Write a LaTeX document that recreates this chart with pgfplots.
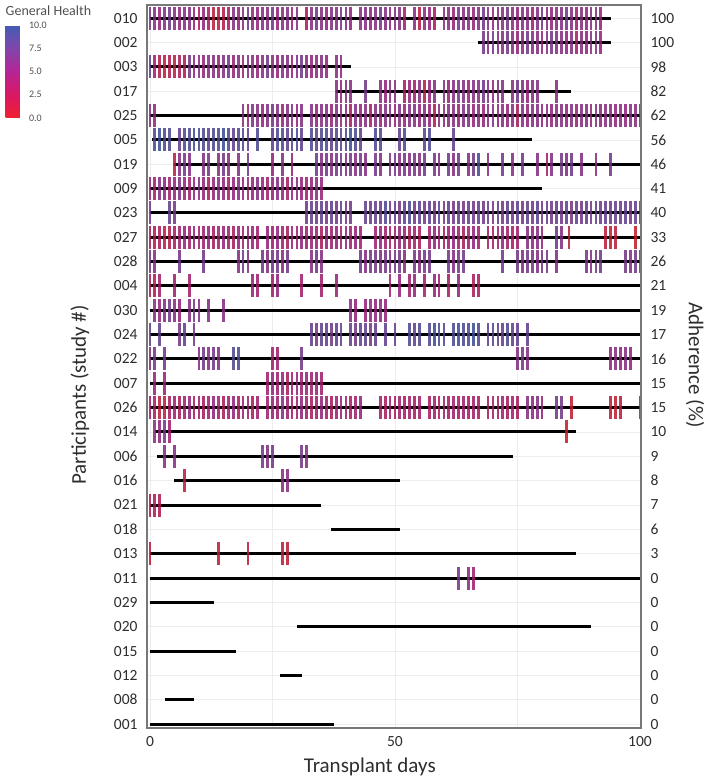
\documentclass[border=0pt]{standalone}
\usepackage{fontspec}
\setmainfont{Carlito}
\usepackage{pgfplots}
\pgfplotsset{compat=1.18}
\definecolor{fr}{RGB}{120,120,120}
\definecolor{tx}{RGB}{45,45,45}
\definecolor{cbt}{RGB}{80,80,80}
\begin{document}
\begin{tikzpicture}
\pgfplotsset{
 tk/.style={scatter, only marks, mark=|, mark size=11.5pt, point meta=explicit, mark options={line width=2.8pt, opacity=0.85}},
 seg/.style={black, line width=3pt, no marks},
}
\begin{axis}[
 scale only axis, width=494pt, height=723pt,
 xmin=-0.6, xmax=100.2, ymin=-0.16, ymax=29.54,
 xtick={0,25,50,75,100}, xticklabels={0,,50,,100},
 ytick={0,...,29},
 yticklabels={001,008,012,015,020,029,011,013,018,021,016,006,014,026,007,022,024,030,004,028,027,023,009,019,005,025,017,003,002,010},
 major tick length=0pt,
 grid=major, major grid style={draw=black!7, line width=0.6pt},
 axis line style={draw=fr, line width=1.3pt},
 ticklabel style={font=\fontsize{15.5}{15.5}\selectfont, text=tx},
 yticklabel style={xshift=-6pt},
 xticklabel style={yshift=-5pt},
 xlabel={Transplant days},
 xlabel style={at={(axis description cs:0.451,-0.0622)}, anchor=base, font=\fontsize{21}{21}\selectfont, text=tx},
 ylabel={Participants (study \#)},
 ylabel style={at={(axis description cs:-0.1356,0.4606)}, anchor=center, font=\fontsize{21}{21}\selectfont, text=tx},
 colormap={gh}{rgb255=(238,32,48) rgb255=(218,24,100) rgb255=(182,36,150) rgb255=(128,70,170) rgb255=(66,92,182)},
 point meta min=0, point meta max=10,
 colorbar,
 colorbar style={scale only axis, width=18pt, height=93pt,
   at={(parent axis.north west)}, anchor=north west, xshift=-150pt, yshift=-20pt,
   ytick={0,2.5,5,7.5,10}, yticklabels={0.0,2.5,5.0,7.5,10.0},
   yticklabel style={font=\fontsize{10}{10}\selectfont, text=cbt, xshift=2pt},
   major tick length=0pt, axis line style={draw=none},
   title={General Health},
   title style={at={(0,1)}, anchor=south west, inner xsep=0pt, inner ysep=3pt, font=\fontsize{14}{14}\selectfont, text=cbt}},
]
\coordinate (SW) at (rel axis cs:0,0);
% daily reports (x = day, y = participant row, [general health])
\addplot[tk] coordinates {(0,29)[7] (1,29)[6] (2,29)[5] (3,29)[6] (4,29)[7] (5,29)[6] (6,29)[5] (7,29)[6] (8,29)[6] (9,29)[5] (10,29)[3] (11,29)[5] (12,29)[3] (13,29)[1] (14,29)[1] (15,29)[2] (16,29)[3] (17,29)[6] (18,29)[5] (19,29)[6] (20,29)[7] (21,29)[6] (22,29)[5] (23,29)[6] (24,29)[6] (25,29)[7] (26,29)[5] (27,29)[6] (28,29)[6] (29,29)[5] (30,29)[6] (32,29)[3] (33,29)[6] (34,29)[7] (35,29)[6] (36,29)[5] (37,29)[6] (38,29)[6] (39,29)[7] (40,29)[6] (41,29)[5] (43,29)[6] (44,29)[6] (45,29)[5] (46,29)[6] (47,29)[7] (48,29)[6] (49,29)[5] (50,29)[6] (51,29)[6] (52,29)[4] (54,29)[6] (55,29)[1.5] (56,29)[6] (57,29)[5] (58,29)[3] (60,29)[6] (61,29)[6] (62,29)[5] (63,29)[7] (64,29)[6] (65,29)[6] (66,29)[5] (67,29)[6] (68,29)[7] (69,29)[6] (70,29)[5] (71,29)[6] (72,29)[6] (73,29)[7] (74,29)[6] (75,29)[5] (76,29)[6] (77,29)[6] (78,29)[4] (79,29)[6] (80,29)[7] (81,29)[6] (82,29)[5] (83,29)[6] (84,29)[6] (85,29)[7] (86,29)[6] (87,29)[4] (88,29)[6] (89,29)[5] (90,29)[6] (91,29)[6] (92,29)[5]};
\addplot[tk] coordinates {(68,28)[7] (69,28)[6] (70,28)[7] (71,28)[6] (72,28)[6] (73,28)[7] (74,28)[6] (75,28)[5] (76,28)[6] (77,28)[7] (78,28)[6] (79,28)[6] (80,28)[5] (81,28)[6] (82,28)[7] (83,28)[6] (84,28)[6] (85,28)[5] (86,28)[6] (87,28)[4] (88,28)[6] (89,28)[5] (90,28)[6] (91,28)[6] (92,28)[5]};
\addplot[tk] coordinates {(0,27)[8] (1,27)[4] (2,27)[2] (3,27)[1] (4,27)[2] (5,27)[1] (6,27)[3] (7,27)[2] (8,27)[7] (9,27)[5] (10,27)[6] (11,27)[5] (12,27)[6] (13,27)[6] (14,27)[5] (15,27)[6] (16,27)[7] (17,27)[5] (18,27)[6] (19,27)[5] (20,27)[6] (21,27)[6] (22,27)[5] (23,27)[6] (24,27)[7] (25,27)[6] (26,27)[5] (27,27)[6] (28,27)[6] (29,27)[5] (30,27)[6] (31,27)[7] (32,27)[6] (33,27)[5] (34,27)[6] (35,27)[6] (36,27)[5] (38,27)[6] (39,27)[5]};
\addplot[tk] coordinates {(38,26)[6] (39,26)[5] (40,26)[6] (41,26)[6] (44,26)[7] (47,26)[6] (48,26)[5] (49,26)[6] (50,26)[6] (52,26)[3] (53,26)[5] (54,26)[4] (55,26)[6] (56,26)[2] (57,26)[5] (58,26)[6] (60,26)[6] (61,26)[5] (62,26)[6] (63,26)[7] (64,26)[6] (65,26)[5] (66,26)[6] (67,26)[6] (68,26)[7] (69,26)[6] (70,26)[5] (71,26)[6] (72,26)[6] (74,26)[6] (75,26)[7] (76,26)[6] (77,26)[5] (78,26)[6] (79,26)[6] (83,26)[6]};
\addplot[tk] coordinates {(0,25)[6] (1,25)[5] (19,25)[6] (20,25)[5] (21,25)[6] (22,25)[6] (23,25)[5] (24,25)[6] (25,25)[7] (26,25)[6] (27,25)[5] (28,25)[6] (29,25)[6] (30,25)[5] (31,25)[6] (33,25)[6] (34,25)[5] (35,25)[6] (36,25)[6] (37,25)[5] (38,25)[6] (39,25)[6] (40,25)[5] (41,25)[3] (42,25)[6] (43,25)[5] (44,25)[6] (45,25)[3] (46,25)[6] (47,25)[5] (48,25)[6] (49,25)[6] (50,25)[5] (51,25)[6] (52,25)[5] (53,25)[6] (54,25)[6] (55,25)[5] (56,25)[6] (57,25)[5] (58,25)[2] (59,25)[6] (60,25)[5] (61,25)[6] (62,25)[6] (63,25)[5] (64,25)[6] (65,25)[6] (66,25)[5] (67,25)[6] (68,25)[5] (69,25)[6] (70,25)[6] (71,25)[5] (72,25)[6] (73,25)[5] (74,25)[6] (75,25)[3] (76,25)[6] (77,25)[5] (78,25)[6] (79,25)[6] (80,25)[5] (81,25)[6] (82,25)[5] (83,25)[6] (84,25)[6] (85,25)[5] (86,25)[6] (87,25)[5] (88,25)[6] (89,25)[6] (90,25)[5] (91,25)[6] (92,25)[5] (93,25)[6] (94,25)[6] (95,25)[5] (96,25)[6] (97,25)[5] (98,25)[6] (99,25)[6] (100,25)[5]};
\addplot[tk] coordinates {(1,24)[9] (2,24)[10] (3,24)[9] (4,24)[9] (6,24)[8] (7,24)[9] (8,24)[9] (9,24)[10] (10,24)[9] (11,24)[9] (12,24)[8] (13,24)[9] (14,24)[9] (15,24)[10] (16,24)[9] (17,24)[8] (18,24)[9] (19,24)[9] (20,24)[8] (22,24)[9] (25,24)[8] (26,24)[9] (27,24)[9] (28,24)[8] (29,24)[9] (30,24)[9] (31,24)[8] (33,24)[9] (34,24)[8] (35,24)[9] (36,24)[9] (37,24)[8] (38,24)[9] (39,24)[8] (40,24)[9] (41,24)[10] (42,24)[9] (43,24)[8] (46,24)[9] (47,24)[9] (51,24)[8] (52,24)[9] (56,24)[8] (57,24)[9] (62,24)[8]};
\addplot[tk] coordinates {(5,23)[1] (6,23)[6] (7,23)[7] (8,23)[6] (11,23)[6] (12,23)[7] (14,23)[6] (15,23)[7] (16,23)[6] (18,23)[6] (20,23)[7] (25,23)[5] (27,23)[6] (29,23)[5] (34,23)[7] (35,23)[6] (36,23)[7] (37,23)[6] (38,23)[7] (39,23)[7] (40,23)[6] (41,23)[7] (42,23)[6] (43,23)[7] (44,23)[6] (46,23)[7] (47,23)[6] (49,23)[6] (50,23)[7] (51,23)[6] (52,23)[7] (53,23)[6] (54,23)[7] (55,23)[6] (56,23)[7] (58,23)[7] (59,23)[6] (61,23)[7] (62,23)[6] (63,23)[7] (65,23)[6] (66,23)[7] (67,23)[9.5] (69,23)[6] (72,23)[7] (74,23)[6] (76,23)[7] (79,23)[6] (81,23)[4] (82,23)[6] (84,23)[7] (85,23)[6] (86,23)[7] (88,23)[6] (91,23)[6] (94,23)[7]};
\addplot[tk] coordinates {(0,22)[5] (1,22)[4] (2,22)[6] (3,22)[5] (4,22)[4] (5,22)[5] (6,22)[6] (7,22)[5] (8,22)[4] (9,22)[5] (10,22)[6] (11,22)[5] (12,22)[3] (13,22)[5] (14,22)[6] (15,22)[5] (16,22)[4] (17,22)[5] (18,22)[6] (19,22)[5] (20,22)[4] (21,22)[5] (22,22)[6] (23,22)[5] (24,22)[4] (25,22)[5] (26,22)[6] (27,22)[5] (28,22)[4] (29,22)[5] (30,22)[6] (31,22)[5] (32,22)[4] (33,22)[5] (34,22)[6] (35,22)[5]};
\addplot[tk] coordinates {(0,21)[7] (4,21)[8] (5,21)[7] (32,21)[7] (33,21)[8] (34,21)[7] (35,21)[8] (36,21)[7] (37,21)[8] (38,21)[7] (39,21)[8] (40,21)[7] (41,21)[7] (44,21)[8] (45,21)[7] (46,21)[8] (47,21)[7] (48,21)[9] (49,21)[7] (50,21)[8] (51,21)[7] (52,21)[8] (53,21)[9] (54,21)[7] (55,21)[8] (56,21)[7] (57,21)[8] (58,21)[7] (59,21)[8] (60,21)[7] (61,21)[8] (62,21)[7] (63,21)[8] (64,21)[7] (65,21)[8] (66,21)[7] (67,21)[8] (68,21)[7] (69,21)[8] (70,21)[7] (71,21)[8] (72,21)[7] (73,21)[8] (74,21)[7] (75,21)[8] (76,21)[7] (77,21)[8] (78,21)[7] (79,21)[8] (80,21)[7] (81,21)[8] (82,21)[7] (83,21)[8] (84,21)[7] (85,21)[8] (86,21)[7] (87,21)[8] (88,21)[7] (89,21)[8] (90,21)[7] (91,21)[8] (92,21)[7] (93,21)[8] (94,21)[7] (95,21)[8] (96,21)[7] (97,21)[8] (98,21)[7] (99,21)[8] (100,21)[7]};
\addplot[tk] coordinates {(0,20)[3] (1,20)[2] (2,20)[3] (3,20)[1] (4,20)[2] (5,20)[3] (6,20)[4] (7,20)[5] (8,20)[4] (9,20)[5] (10,20)[4] (11,20)[4] (12,20)[5] (13,20)[3] (14,20)[4] (15,20)[5] (16,20)[4] (17,20)[3] (18,20)[5] (19,20)[4] (20,20)[4] (21,20)[5] (22,20)[4] (24,20)[5] (25,20)[4] (26,20)[5] (27,20)[4] (28,20)[3] (29,20)[5] (30,20)[4] (31,20)[5] (32,20)[4] (33,20)[5] (34,20)[4] (35,20)[3] (36,20)[5] (37,20)[4] (38,20)[5] (39,20)[4] (40,20)[5] (41,20)[4] (42,20)[5] (43,20)[4] (46,20)[4] (47,20)[5] (48,20)[4] (49,20)[3] (50,20)[4] (51,20)[5] (52,20)[4] (53,20)[3] (54,20)[4] (55,20)[3] (57,20)[4] (58,20)[5] (59,20)[4] (60,20)[3] (61,20)[4] (62,20)[5] (63,20)[4] (64,20)[3] (65,20)[4] (66,20)[5] (67,20)[4] (69,20)[4] (70,20)[3] (71,20)[4] (72,20)[5] (73,20)[4] (74,20)[3] (75,20)[4] (77,20)[6] (78,20)[5] (79,20)[6] (80,20)[5] (83,20)[7] (84,20)[6] (85.5,20)[1] (93,20)[1] (94,20)[0] (95,20)[1] (99,20)[0]};
\addplot[tk] coordinates {(0,19)[7] (1,19)[6] (6,19)[7] (11,19)[7] (18,19)[6] (19,19)[7] (20,19)[6] (23,19)[7] (24,19)[6] (25,19)[7] (26,19)[7] (27,19)[6] (28,19)[7] (33,19)[6] (34,19)[7] (35,19)[6] (43,19)[7] (44,19)[6] (45,19)[7] (46,19)[7] (47,19)[6] (48,19)[7] (49,19)[6] (50,19)[7] (51,19)[7] (52,19)[6] (54,19)[7] (55,19)[6] (56,19)[7] (57,19)[7] (61,19)[7] (62,19)[6] (63,19)[7] (64,19)[7] (72,19)[7] (75,19)[7] (76,19)[6] (77,19)[7] (78,19)[7] (79,19)[6] (80,19)[7] (81,19)[7] (83,19)[6] (89,19)[7] (90,19)[6] (91,19)[7] (92,19)[7] (97,19)[7] (98,19)[6] (99,19)[7] (100,19)[7]};
\addplot[tk] coordinates {(0,18)[3] (1,18)[2] (2,18)[4] (5,18)[4] (8,18)[4] (21,18)[5] (22,18)[4] (25,18)[4] (26,18)[5] (31,18)[4] (35,18)[4] (38,18)[5] (49,18)[4] (51,18)[5] (53,18)[4] (54,18)[5] (56,18)[4] (58,18)[5] (59,18)[4] (61,18)[3] (63,18)[5] (66,18)[3] (67,18)[3]};
\addplot[tk] coordinates {(1,17)[6] (2,17)[5] (3,17)[6] (4,17)[7] (5,17)[6] (6,17)[5] (8,17)[6] (9,17)[7] (10,17)[6] (12,17)[6] (15,17)[6] (41,17)[6] (42,17)[5] (44,17)[5] (45,17)[6] (46,17)[5] (47,17)[6] (48,17)[5]};
\addplot[tk] coordinates {(0,16)[8] (2,16)[8] (6,16)[7] (7,16)[8] (9,16)[7] (33,16)[8] (34,16)[7] (35,16)[8] (36,16)[8] (37,16)[7] (38,16)[8] (39,16)[8] (41,16)[8] (42,16)[7] (43,16)[8] (44,16)[8] (45,16)[7] (46,16)[8] (48,16)[8] (50,16)[8] (53,16)[9] (54,16)[8] (55,16)[9] (57,16)[9] (58,16)[10] (59,16)[9] (60,16)[9] (62,16)[9] (63,16)[10] (64,16)[9] (65,16)[9] (66,16)[10] (67,16)[9] (69,16)[8] (70,16)[9] (71,16)[8] (72,16)[8] (73,16)[9] (74,16)[8] (75,16)[8] (77,16)[8]};
\addplot[tk] coordinates {(0,15)[6] (1,15)[7] (3,15)[7] (10,15)[6] (11,15)[7] (12,15)[6] (13,15)[7] (14,15)[6] (17,15)[9] (18,15)[9] (25,15)[4] (26,15)[4] (31,15)[7] (75,15)[6] (76,15)[7] (77,15)[6] (94,15)[5] (95,15)[6] (96,15)[5] (97,15)[6] (98,15)[5]};
\addplot[tk] coordinates {(1,14)[5] (3,14)[5] (24,14)[4] (25,14)[5] (26,14)[4] (27,14)[5] (28,14)[3] (29,14)[4] (30,14)[5] (31,14)[4] (32,14)[5] (33,14)[4] (34,14)[5] (35,14)[4]};
\addplot[tk] coordinates {(0,13)[4] (1,13)[3] (2,13)[1] (3,13)[1] (4,13)[3] (5,13)[4] (6,13)[3] (7,13)[4] (8,13)[5] (9,13)[3] (10,13)[4] (11,13)[3] (12,13)[4] (13,13)[5] (14,13)[4] (15,13)[3] (16,13)[4] (17,13)[5] (18,13)[3] (19,13)[4] (20,13)[4] (21,13)[3] (22,13)[4] (24,13)[4] (25,13)[5] (26,13)[4] (27,13)[6.5] (28,13)[4] (29,13)[3] (30,13)[4] (31,13)[5] (32,13)[4] (33,13)[3] (34,13)[4] (35,13)[5] (36,13)[4] (37,13)[3] (38,13)[4] (39,13)[5] (40,13)[4] (41,13)[3] (42,13)[4] (43,13)[5] (47,13)[4] (48,13)[3] (49,13)[4] (50,13)[3] (51,13)[4] (52,13)[3] (53,13)[4] (54,13)[3] (55,13)[4] (57,13)[3] (58,13)[4] (59,13)[3] (60,13)[4] (61,13)[3] (62,13)[4] (63,13)[3] (64,13)[4] (65,13)[3] (66,13)[4] (67,13)[3] (69,13)[3] (70,13)[4] (71,13)[3] (72,13)[4] (73,13)[3] (74,13)[4] (75,13)[3] (77,13)[6] (78,13)[5] (79,13)[6] (80,13)[5] (83,13)[7] (84,13)[7] (86,13)[0.5] (94,13)[1] (95,13)[0] (96,13)[1.5] (100,13)[0]};
\addplot[tk] coordinates {(1,12)[6] (2,12)[5] (3,12)[7] (4,12)[4] (85,12)[0]};
\addplot[tk] coordinates {(3,11)[6] (5,11)[6] (23,11)[7] (24,11)[6] (25,11)[7] (31,11)[7] (32,11)[6]};
\addplot[tk] coordinates {(7,10)[1] (27,10)[6] (28,10)[6]};
\addplot[tk] coordinates {(0,9)[2] (1,9)[3] (2,9)[2]};
\addplot[tk] coordinates {(0,7)[0.5] (14,7)[0.5] (20,7)[0.5] (27,7)[0.5] (28,7)[0.5]};
\addplot[tk] coordinates {(63,6)[7] (65,6)[6] (66,6)[4]};
% observation windows
\addplot[seg] coordinates {(0,29) (94,29)};
\addplot[seg] coordinates {(67,28) (94,28)};
\addplot[seg] coordinates {(0,27) (41,27)};
\addplot[seg] coordinates {(38,26) (86,26)};
\addplot[seg] coordinates {(0,25) (100,25)};
\addplot[seg] coordinates {(0.5,24) (78,24)};
\addplot[seg] coordinates {(5,23) (100,23)};
\addplot[seg] coordinates {(0,22) (80,22)};
\addplot[seg] coordinates {(0,21) (100,21)};
\addplot[seg] coordinates {(0,20) (100,20)};
\addplot[seg] coordinates {(0,19) (100,19)};
\addplot[seg] coordinates {(0,18) (100,18)};
\addplot[seg] coordinates {(0,17) (100,17)};
\addplot[seg] coordinates {(0,16) (100,16)};
\addplot[seg] coordinates {(0,15) (100,15)};
\addplot[seg] coordinates {(0,14) (100,14)};
\addplot[seg] coordinates {(0,13) (100,13)};
\addplot[seg] coordinates {(1,12) (87,12)};
\addplot[seg] coordinates {(1.5,11) (74,11)};
\addplot[seg] coordinates {(5,10) (51,10)};
\addplot[seg] coordinates {(0,9) (35,9)};
\addplot[seg] coordinates {(37,8) (51,8)};
\addplot[seg] coordinates {(0,7) (87,7)};
\addplot[seg] coordinates {(0,6) (100,6)};
\addplot[seg] coordinates {(0,5) (13,5)};
\addplot[seg] coordinates {(30,4) (90,4)};
\addplot[seg] coordinates {(0,3) (17.5,3)};
\addplot[seg] coordinates {(26.5,2) (31,2)};
\addplot[seg] coordinates {(3,1) (9,1)};
\addplot[seg] coordinates {(0,0) (37.5,0)};
\end{axis}
\begin{axis}[
 scale only axis, width=494pt, height=723pt,
 xmin=-0.6, xmax=100.2, ymin=-0.16, ymax=29.54,
 axis x line=none, axis y line*=right,
 axis line style={draw=fr, line width=1.3pt},
 ytick={0,...,29},
 yticklabels={0,0,0,0,0,0,0,3,6,7,8,9,10,15,15,16,17,19,21,26,33,40,41,46,56,62,82,98,100,100},
 major tick length=0pt,
 yticklabel style={font=\fontsize{15.5}{15.5}\selectfont, text=tx, xshift=6pt},
 ylabel={Adherence (\%)},
 ylabel style={at={(axis description cs:1.1093,0.502)}, anchor=center, rotate=180, font=\fontsize{21}{21}\selectfont, text=tx},
]
\end{axis}
\pgfresetboundingbox
\path ([xshift=-147pt,yshift=-53pt]SW) rectangle ++(710pt,781pt);
\end{tikzpicture}
\end{document}
